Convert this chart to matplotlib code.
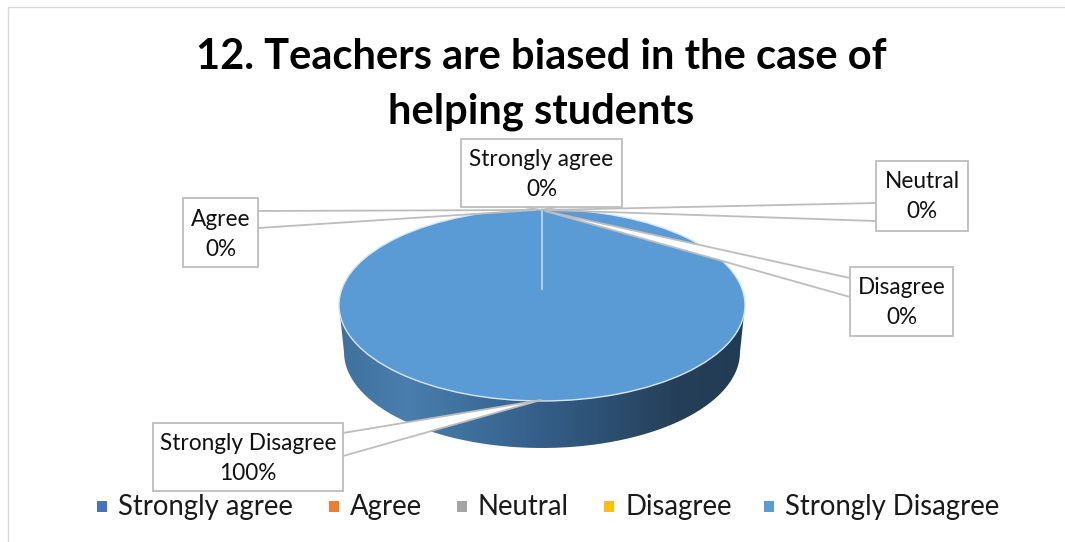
import numpy as np
import matplotlib
matplotlib.use("Agg")
import matplotlib.pyplot as plt
from matplotlib.patches import PathPatch, Rectangle, Polygon
from matplotlib.path import Path
from matplotlib.colors import LinearSegmentedColormap

categories = ["Strongly agree", "Agree", "Neutral", "Disagree", "Strongly Disagree"]
values = [0, 0, 0, 0, 100]
percent_labels = ["0%", "0%", "0%", "0%", "100%"]
colors = ["#4472C4", "#ED7D31", "#A5A5A5", "#FFC000", "#5B9BD5"]
title_lines = ["12. Teachers are biased in the case of", "helping students"]

W, H = 1065, 542
plt.rcParams["font.family"] = ["Lato", "DejaVu Sans"]
fig = plt.figure(figsize=(W / 100, H / 100), dpi=100, facecolor="white")
ax = fig.add_axes([0, 0, 1, 1])
ax.set_xlim(0, W)
ax.set_ylim(H, 0)
ax.axis("off")

# frame
ax.plot([8, 8, 1065], [542, 7, 7], color="#D9D9D9", lw=1)

cx, cy, rx, ry = 542, 305, 203, 96
bx, by, brx, bry = 542, 352, 198, 96

# extruded side with horizontal gradient
t = np.linspace(0, np.pi, 200)
xs = cx + rx * np.cos(t)
ys = cy + ry * np.sin(t)
xb = bx + brx * np.cos(t)
yb = by + bry * np.sin(t)
verts = np.r_[np.c_[xs, ys], np.c_[xb[::-1], yb[::-1]], [[xs[0], ys[0]]]]
side = PathPatch(Path(verts), facecolor="none", edgecolor="none")
ax.add_patch(side)
cmap = LinearSegmentedColormap.from_list(
    "side", ["#3F719E", "#4A7EAE", "#3E6F9C", "#345E88", "#2C4F71", "#253F59", "#223C55"])
im = ax.imshow(np.linspace(0, 1, 256)[None, :], extent=[cx - rx, cx + rx, by + bry, cy - ry],
               cmap=cmap, aspect="auto", zorder=2)
im.set_clip_path(side)
ax.set_xlim(0, W)
ax.set_ylim(H, 0)

# top of pie, in its own axes
pie_ax = fig.add_axes([(cx - rx) / W, 1 - (cy + ry) / H, 2 * rx / W, 2 * ry / H], zorder=3)
pie_ax.patch.set_alpha(0)
wedges, _ = pie_ax.pie(values, colors=colors, startangle=90, counterclock=False, radius=1,
                       wedgeprops=dict(edgecolor="#D5E6F4", linewidth=1.0))
pie_ax.set_aspect("auto")
pie_ax.set_xlim(-1, 1)
pie_ax.set_ylim(-1, 1)
pie_ax.axis("off")

# overlay for labels and leaders
ov = fig.add_axes([0, 0, 1, 1], zorder=4)
ov.set_xlim(0, W)
ov.set_ylim(H, 0)
ov.axis("off")
ov.patch.set_alpha(0)

boxes = [  # x0, y0, x1, y1
    (461, 139, 622, 207),
    (183, 198, 258, 267),
    (876, 161, 968, 231),
    (850, 267, 953, 336),
    (153, 423, 343, 491),
]
# callout tails: box end A, apex, box end B
tails = [
    [(525, 207), (541, 210), (557, 207)],
    [(258, 211), (536, 210), (258, 228)],
    [(876, 203), (546, 210), (876, 221)],
    [(850, 278), (545, 211), (850, 297)],
    [(343, 433), (541, 400), (343, 456)],
]
line_c = "#BDBDBD"
for tail in tails:
    ov.add_patch(Polygon(tail, closed=True, facecolor="white", edgecolor="none", zorder=1))
    ov.plot(*zip(*tail), color=line_c, lw=1.3, zorder=1.1)
# tail of the top label runs down into the pie
ov.plot([541.5, 541.5], [207, 289], color="#C3DDEF", lw=1.2, zorder=1)

for cat, pct, (x0, y0, x1, y1) in zip(categories, percent_labels, boxes):
    ov.add_patch(Rectangle((x0, y0), x1 - x0, y1 - y0, facecolor="white", edgecolor=line_c, lw=1.3, zorder=2))
    xm = (x0 + x1) / 2
    ov.text(xm, y0 + 21, cat, ha="center", va="center", fontsize=16.3, color="#111111", zorder=3)
    ov.text(xm, y0 + 51, pct, ha="center", va="center", fontsize=16.3, color="#111111", zorder=3)

for line, y in zip(title_lines, [57, 112]):
    ov.text(541, y, line, ha="center", va="center", fontsize=30, fontweight="bold", color="black")

# legend
legend_x = [102, 334, 462, 609, 769]
for cat, col, x in zip(categories, colors, legend_x):
    ov.add_patch(Rectangle((x - 5, 501), 10, 11, facecolor=col, edgecolor="none"))
    ov.text(x + 16, 507, cat, ha="left", va="center", fontsize=19.8, color="#1a1a1a")

fig.savefig("out.png", dpi=100)
